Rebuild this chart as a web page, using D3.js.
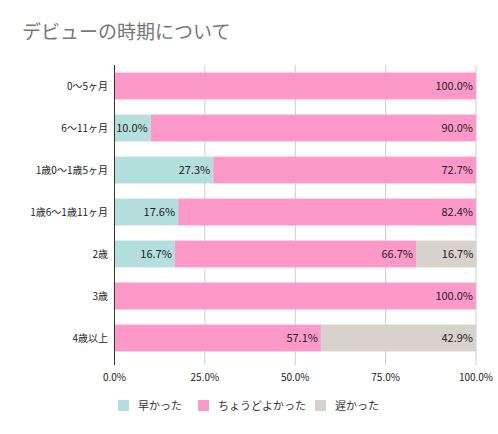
<!DOCTYPE html><html><head><meta charset="utf-8"><script src="https://cdn.jsdelivr.net/npm/d3@7"></script>
<style>body{margin:0;background:#fff;font-family:"Noto Sans CJK JP",sans-serif}</style></head><body><svg id="c" width="498" height="434"></svg>
<script>
const categories=["0〜5ヶ月","6〜11ヶ月","1歳0〜1歳5ヶ月","1歳6〜1歳11ヶ月","2歳","3歳","4歳以上"];
const seriesNames=["早かった","ちょうどよかった","遅かった"];
const early=[0,10.0,27.3,17.6,16.7,0,0];
const justRight=[100.0,90.0,72.7,82.4,66.7,100.0,57.1];
const late=[0,0,0,0,16.7,0,42.9];
const colors=["#b3dfdc","#fd99c9","#d7d2cb"];
const ticks=[0,25,50,75,100];
const svg=d3.select("#c");
svg.append("text").attr("x",22).attr("y",39).attr("font-size",19).attr("fill","#777").text("デビューの時期について");
const x=d3.scaleLinear().domain([0,100]).range([114.5,476]);
const y=d3.scaleBand().domain(categories).range([65,359]).paddingInner(0.36).paddingOuter(0.18);
svg.append("g").selectAll("line").data(ticks.slice(1)).join("line").attr("x1",d=>x(d)).attr("x2",d=>x(d)).attr("y1",65).attr("y2",365).attr("stroke","#ccc");
const series=[early,justRight,late];
const stack=categories.map((c,i)=>{let s=0;return series.map((arr,k)=>{const v=arr[i];const r={c,k,v,x0:s,x1:s+v};s+=v;return r;});}).flat().filter(d=>d.v>0);
svg.append("g").selectAll("rect").data(stack).join("rect").attr("x",d=>x(d.x0)).attr("width",d=>x(d.x1)-x(d.x0)).attr("y",d=>y(d.c)).attr("height",y.bandwidth()).attr("fill",d=>colors[d.k]);
svg.append("g").selectAll("text").data(stack).join("text").attr("x",d=>x(d.x1)-3).attr("y",d=>y(d.c)+y.bandwidth()/2+4).attr("text-anchor","end").attr("font-size",11).attr("fill","#222").text(d=>d.v.toFixed(1)+"%");
svg.append("line").attr("x1",114.5).attr("x2",114.5).attr("y1",65).attr("y2",365).attr("stroke","#333");
svg.append("g").selectAll("text").data(categories).join("text").attr("x",108).attr("y",d=>y(d)+y.bandwidth()/2+4).attr("text-anchor","end").attr("font-size",10).attr("fill","#222").text(d=>d);
svg.append("g").selectAll("text").data(ticks).join("text").attr("x",d=>x(d)).attr("y",381).attr("text-anchor","middle").attr("font-size",10).attr("fill","#222").text(d=>d.toFixed(1)+"%");
const lx=[118,198,315];
const lg=svg.append("g").selectAll("g").data(seriesNames).join("g").attr("transform",(d,i)=>`translate(${lx[i]},400)`);
lg.append("rect").attr("width",11).attr("height",11).attr("fill",(d,i)=>colors[i]);
lg.append("text").attr("x",20).attr("y",10).attr("font-size",11).attr("fill","#333").text(d=>d);
</script></body></html>
